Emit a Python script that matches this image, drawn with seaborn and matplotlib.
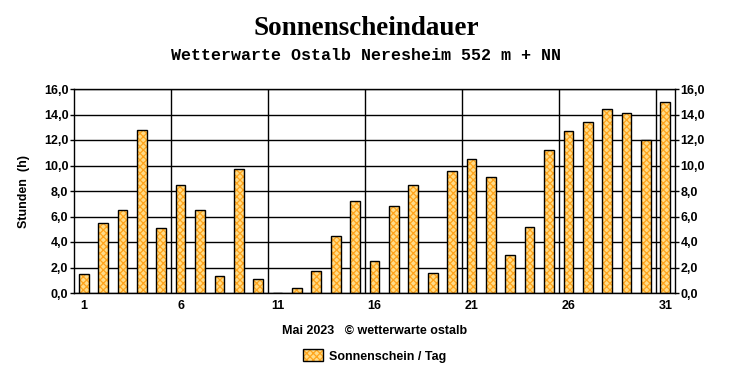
import numpy as np
import pandas as pd
import matplotlib
matplotlib.use("Agg")
import matplotlib.pyplot as plt
import seaborn as sns
from matplotlib.ticker import FixedLocator, FuncFormatter
from matplotlib.patches import Patch
from matplotlib.legend_handler import HandlerTuple

# data: May 2023, sunshine hours per day
days = list(range(1, 32))
sunshine = [1.5, 5.5, 6.5, 12.8, 5.1, 8.5, 6.5, 1.3, 9.7, 1.1,
            0.0, 0.4, 1.7, 4.5, 7.2, 2.5, 6.8, 8.5, 1.6, 9.6,
            10.5, 9.1, 3.0, 5.2, 11.2, 12.7, 13.4, 14.4, 14.1, 12.0,
            15.0]
day_labels = [str(d) if (d - 1) % 5 == 0 else "" for d in days]

title = "Sonnenscheindauer"
subtitle = "Wetterwarte Ostalb Neresheim 552 m + NN"
xlabel = "Mai 2023   \u00a9 wetterwarte ostalb"
ylabel = "Stunden  (h)"
legend_label = "Sonnenschein / Tag"

sns.set_style("white")
plt.rcParams["font.family"] = ["Liberation Sans", "DejaVu Sans"]
plt.rcParams["hatch.linewidth"] = 0.9
for k in ["text.color", "axes.labelcolor", "xtick.color", "ytick.color"]:
    plt.rcParams[k] = "black"

df = pd.DataFrame({"day": [str(d) for d in days], "hours": sunshine})

fig = plt.figure(figsize=(7.32, 3.80), dpi=100)
ax = fig.add_axes([74 / 732, 87 / 380, 601 / 732, 204 / 380])

bar_fill = "#FFDC88"
hatch_col = "#FFA41C"
hatch = "xxxxx"

# hatched fill (hatch takes the edge colour), then black outlines on top
sns.barplot(data=df, x="day", y="hours", color=bar_fill, saturation=1,
            width=0.5, edgecolor=hatch_col, linewidth=0, ax=ax, zorder=3)
for p in ax.patches:
    p.set_hatch(hatch)
sns.barplot(data=df, x="day", y="hours", fill=False, width=0.5,
            edgecolor="black", linewidth=1.0, ax=ax, zorder=4)

ax.set_xlim(-0.5, 30.5)
ax.set_ylim(0, 16)

# y axis on both sides
yt = np.arange(0, 17, 2)
ax.set_yticks(yt)
fmt = FuncFormatter(lambda v, _: f"{v:.1f}".replace(".", ","))
ax.yaxis.set_major_formatter(fmt)
ax.tick_params(axis="y", left=True, right=True, labelleft=True, labelright=True,
               length=3, width=1, color="black", pad=1, labelsize=9)
for lab in ax.get_yticklabels():
    lab.set_fontweight("bold")
ax.grid(axis="y", color="black", linewidth=1, zorder=1)

# x axis: labels at days 1,6,..., gridlines/ticks at day boundaries
ax.set_xticks(range(len(days)))
ax.set_xticklabels(day_labels, fontweight="bold", fontsize=9)
ax.tick_params(axis="x", which="major", length=0, pad=5)
ax.xaxis.set_minor_locator(FixedLocator(np.arange(0.5, 30, 1)))
ax.tick_params(axis="x", which="minor", length=4, width=1, color="black", direction="inout")
for xb in np.arange(4.5, 30, 5):
    ax.axvline(xb, color="black", linewidth=1, zorder=1)

for s in ax.spines.values():
    s.set_color("black")
    s.set_linewidth(1)
    s.set_zorder(5)

ax.set_xlabel("")
ax.set_ylabel(ylabel, fontweight="bold", fontsize=9, labelpad=10)

fig.text(0.5, 0.926, title, ha="center", va="center", fontsize=19.5,
         fontweight="bold", family="Liberation Serif")
fig.text(0.5, 0.855, subtitle, ha="center", va="center", fontsize=12,
         fontweight="bold", family="Liberation Mono")
fig.text(375 / 732, 1 - 331 / 380, xlabel, ha="center", va="center",
         fontsize=9, fontweight="bold")

h_fill = Patch(facecolor=bar_fill, edgecolor=hatch_col, hatch=hatch, linewidth=0)
h_edge = Patch(facecolor="none", edgecolor="black", linewidth=1)
fig.legend([(h_fill, h_edge)], [legend_label], loc="center",
           bbox_to_anchor=(375 / 732, 1 - 356 / 380),
           handler_map={tuple: HandlerTuple(ndivide=1, pad=0)},
           frameon=False, prop={"weight": "bold", "size": 9}, handlelength=1.6,
           handleheight=1.1, handletextpad=0.5)

fig.savefig("out.png", dpi=100)
